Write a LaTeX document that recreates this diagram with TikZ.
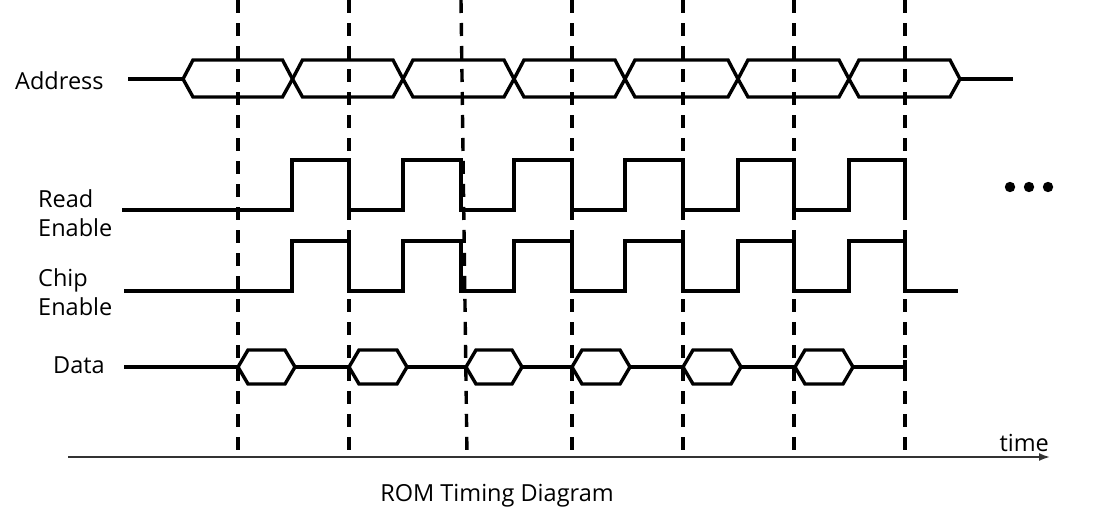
\documentclass[tikz,border=0pt]{standalone}
\usepackage{fontspec}
\setmainfont{Open Sans}
\usetikzlibrary{arrows.meta}
\begin{document}
\begin{tikzpicture}[x=1pt,y=-1pt,
  sig/.style={line width=3.4pt,line join=miter,line cap=butt},
  guide/.style={line width=3.4pt,dash pattern=on 13pt off 10pt},
  axisline/.style={line width=1.8pt,draw=black!80,-{Latex[length=11pt,width=8pt]}},
  lbl/.style={font=\fontsize{23.5}{29}\selectfont,inner sep=0pt,align=left}]
\useasboundingbox (0,0) rectangle (1096,525);
% guide lines
\foreach \xa/\xb in {238/238,349/349,461/467,572/572,683/683,794/794,905/905}
  \draw[guide] (\xa,0) -- (\xb,457);
% time axis
\coordinate (t0) at (68,457);
\coordinate (t1) at (1050,457);
\draw[axisline] (t0) -- (t1);
\node[lbl,anchor=south east] (time) at (1049,452) {time};
% Address bus
\draw[sig] (128,79) -- (183,79);
\draw[sig] (960,79) -- (1013,79);
\foreach \a/\b in {183/292.5,292.5/403,403/514,514/625,625/738,738/849,849/960}
  \draw[sig] (\a,79) -- (\a+10,60) -- (\b-10,60) -- (\b,79) -- (\b-10,97) -- (\a+10,97) -- cycle;
% Read Enable
\draw[sig] (122,210) -- (292,210) -- (292,160) -- (349,160) -- (349,210)
  -- (403,210) -- (403,160) -- (461,160) -- (461,210)
  -- (514,210) -- (514,160) -- (572,160) -- (572,210)
  -- (625,210) -- (625,160) -- (683,160) -- (683,210)
  -- (738,210) -- (738,160) -- (794,160) -- (794,210)
  -- (849,210) -- (849,160) -- (905,160) -- (905,212);
% Chip Enable
\draw[sig] (124,291) -- (292,291) -- (292,241) -- (349,241) -- (349,291)
  -- (403,291) -- (403,241) -- (461,241) -- (461,291)
  -- (514,291) -- (514,241) -- (572,241) -- (572,291)
  -- (625,291) -- (625,241) -- (683,241) -- (683,291)
  -- (738,291) -- (738,241) -- (794,241) -- (794,291)
  -- (849,291) -- (849,241) -- (905,241) -- (905,291) -- (958,291);
% Data
\draw[sig] (124,367) -- (238,367);
\draw[sig] (295,367) -- (349,367);
\draw[sig] (407,367) -- (466,367);
\draw[sig] (522,367) -- (572,367);
\draw[sig] (630,367) -- (683,367);
\draw[sig] (741,367) -- (795,367);
\draw[sig] (853,367) -- (905,367);
\draw[sig] (905,360) -- (905,374);
\foreach \a/\b in {238/295,349/407,466/522,572/630,683/741,795/853}
  \draw[sig] (\a,367) -- (\a+10,350) -- (\b-10,350) -- (\b,367) -- (\b-10,384) -- (\a+10,384) -- cycle;
% labels
\node[lbl,anchor=west] (addr) at (15,81) {Address};
\node[lbl,anchor=west] (re) at (38,213) {Read\\Enable};
\node[lbl,anchor=west] (ce) at (38,292) {Chip\\Enable};
\node[lbl,anchor=west] (data) at (53,365) {Data};
\node[lbl] (title) at (497,496) {ROM Timing Diagram};
% dots
\foreach \x in {1010,1029,1048} \fill (\x,187) circle (5.2pt);
\end{tikzpicture}
\end{document}
